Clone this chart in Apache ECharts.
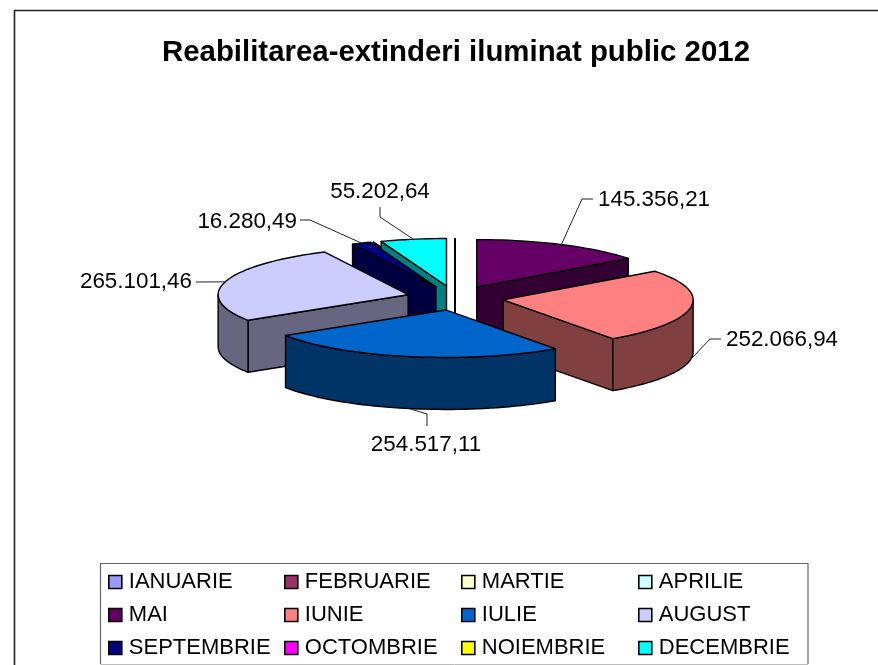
<!DOCTYPE html>
<html>
<head>
<meta charset="utf-8">
<style>html,body{margin:0;padding:0;background:#fff;overflow:hidden}#c{width:878px;height:665px}</style>
<script src="https://cdn.jsdelivr.net/npm/echarts@6/dist/echarts.min.js"></script>
</head>
<body>
<div id="c"></div>
<script>
// ---- data ----
var titleText = 'Reabilitarea-extinderi iluminat public 2012';
var months = ['IANUARIE','FEBRUARIE','MARTIE','APRILIE','MAI','IUNIE','IULIE','AUGUST','SEPTEMBRIE','OCTOMBRIE','NOIEMBRIE','DECEMBRIE'];
var values = [0,0,0,0,145356.21,252066.94,254517.11,265101.46,16280.49,0,0,55202.64];

// ---- styling and layout ----
var topColors  = ['#9999FF','#993366','#FFFFCC','#CCFFFF','#660066','#FF8080','#0066CC','#CCCCFF','#000080','#FF00FF','#FFFF00','#00FFFF'];
var wallColors = ['#4D4D80','#4D1A33','#808066','#668080','#330033','#804040','#003366','#666680','#000040','#800080','#808000','#008080'];
var drawOrder = [0,1,2,3,9,10,11,8,4,7,5,6];
var FONT = '"Liberation Sans", Arial, sans-serif';
var pie = {cx:455, cy:298, rx:190, ry:47.5, depth:52, explode:48.7};
var labelLayout = {
  4:  {x:598, y:200, align:'left',   elbow:[[582,199],[593,199]], front:false},
  5:  {x:726, y:340, align:'left',   elbow:[[710,339],[721,339]], front:true},
  6:  {x:426, y:445, align:'center', elbow:[[427,414],[427,426]], front:true},
  7:  {x:192, y:282, align:'right',  elbow:[[196,282]], front:false},
  8:  {x:297, y:222, align:'right',  elbow:[[310,220],[300,220]], front:false},
  11: {x:380, y:192, align:'center', elbow:[[380,217],[380,207]], front:false}
};

var total = values.reduce(function(a,b){return a+b;},0);
var starts = [], acc = 0;
values.forEach(function(v){ starts.push(acc/total*Math.PI*2); acc += v; });

function fmt(v){
  var p = v.toFixed(2).split('.');
  return p[0].replace(/\B(?=(\d{3})+$)/g,'.') + ',' + p[1];
}
function renderSlice(i){
  return function(params, api){
    var v = api.value(0);
    var a0 = starts[i], a1 = a0 + v/total*Math.PI*2, mid = (a0+a1)/2;
    var ax = pie.cx + pie.explode*Math.sin(mid);
    var ay = pie.cy - pie.explode*(pie.ry/pie.rx)*Math.cos(mid);
    function rim(a){ return [ax+pie.rx*Math.sin(a), ay-pie.ry*Math.cos(a)]; }
    function down(p){ return [p[0], p[1]+pie.depth]; }
    var apex = [ax,ay], kids = [];
    function poly(pts, fill){
      kids.push({type:'polygon', shape:{points:pts}, style:{fill:fill, stroke:'#000', lineWidth:1.4, lineJoin:'round'}});
    }
    var wall = wallColors[i], top = topColors[i];
    if (v === 0) {
      kids.push({type:'polyline', shape:{points:[rim(a0),apex,down(apex)]}, style:{fill:null, stroke:'#000', lineWidth:1.5}});
      return {type:'group', children:kids};
    }
    // cut face at the start edge faces the viewer on the left half
    if (Math.sin(a0) < -1e-6) poly([apex,rim(a0),down(rim(a0)),down(apex)], wall);
    // cut face at the end edge faces the viewer on the right half
    if (Math.sin(a1) > 1e-6) poly([apex,rim(a1),down(rim(a1)),down(apex)], wall);
    // outer wall, front half only
    var f0 = Math.max(a0, Math.PI/2), f1 = Math.min(a1, Math.PI*1.5);
    if (f1 > f0) {
      var up = [], n = Math.ceil((f1-f0)/(Math.PI/90));
      for (var k=0;k<=n;k++) up.push(rim(f0+(f1-f0)*k/n));
      poly(up.concat(up.slice().reverse().map(down)), wall);
    }
    // top face
    var pts = [apex], m = Math.max(2, Math.ceil((a1-a0)/(Math.PI/90)));
    for (var j=0;j<=m;j++) pts.push(rim(a0+(a1-a0)*j/m));
    poly(pts, top);
    // value label and its leader
    var lab = labelLayout[i];
    if (lab) {
      var anchor = rim(mid);
      if (lab.front) anchor = down(anchor);
      kids.push({type:'polyline', shape:{points:[anchor].concat(lab.elbow)}, style:{fill:null, stroke:'#222', lineWidth:1}});
      kids.push({type:'text', z2:50, style:{text:fmt(v), x:lab.x, y:lab.y, align:lab.align, verticalAlign:'middle', font:'22.4px '+FONT, fill:'#000'}});
    }
    return {type:'group', children:kids};
  };
}
var series = drawOrder.map(function(i){
  return {type:'custom', name:months[i], coordinateSystem:'none', silent:true, animation:false, clip:false,
    itemStyle:{color:topColors[i]}, renderItem:renderSlice(i), data:[[values[i]]]};
});
var colX = [108,284,461,638];
var legends = colX.map(function(x,c){
  return {orient:'vertical', left:x, top:571, padding:0, itemWidth:13, itemHeight:13, itemGap:11, icon:'rect',
    selectedMode:false, data:[months[c],months[c+4],months[c+8]],
    itemStyle:{borderColor:'#000', borderWidth:1.6},
    textStyle:{fontFamily:FONT, fontSize:22, color:'#000', lineHeight:22, padding:[0,0,0,2]}};
});
var chart = echarts.init(document.getElementById('c'), null, {renderer:'canvas'});
chart.setOption({
  animation:false,
  backgroundColor:'#fff',
  title:{text:titleText, left:456, top:38, textAlign:'center', padding:0,
    textStyle:{fontFamily:FONT, fontWeight:'bold', fontSize:29.4, color:'#000'}},
  legend:legends,
  graphic:[
    {type:'polyline', shape:{points:[[14.5,665],[14.5,10.5],[878,10.5]]}, style:{fill:null, stroke:'#222', lineWidth:1.6}, silent:true},
    {type:'polyline', shape:{points:[[100.5,664],[100.5,563.5],[808,563.5],[808,664]]}, style:{fill:null, stroke:'#666', lineWidth:1.2}, silent:true},
    {type:'line', shape:{x1:100.5,y1:664.5,x2:808,y2:664.5}, style:{stroke:'#bbb', lineWidth:1}, silent:true}
  ],
  series:series
});
</script>
</body>
</html>
